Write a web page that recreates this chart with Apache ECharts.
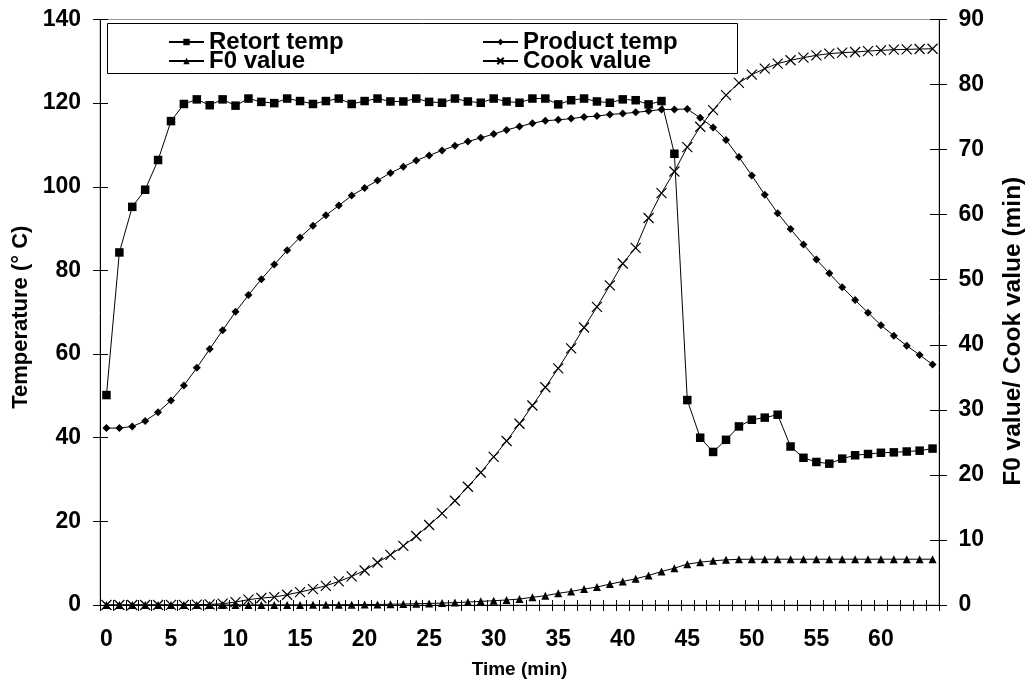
<!DOCTYPE html>
<html>
<head>
<meta charset="utf-8">
<script src="https://cdn.jsdelivr.net/npm/echarts@6/dist/echarts.min.js"></script>
<style>
  html, body { margin: 0; padding: 0; background: #fff; }
  #chart { width: 1034px; height: 684px; }
</style>
</head>
<body>
<div id="chart"></div>
<script>
// Time points, one reading per minute
const timeMin = Array.from({ length: 65 }, (_, i) => String(i));

// Retort temperature (°C)
const retortTemp = [
  50.2, 84.3, 95.2, 99.3, 106.4, 115.7, 119.8, 120.9, 119.5, 120.9,
  119.4, 121.1, 120.3, 120.0, 121.1, 120.5, 119.8, 120.5, 121.1, 119.8,
  120.5, 121.1, 120.4, 120.4, 121.1, 120.3, 120.1, 121.1, 120.4, 120.1,
  121.1, 120.4, 120.1, 121.1, 121.1, 119.7, 120.7, 121.1, 120.4, 120.1,
  120.9, 120.7, 119.7, 120.5, 107.9, 49.0, 40.0, 36.6, 39.5, 42.7,
  44.3, 44.8, 45.5, 37.9, 35.2, 34.2, 33.8, 35.0, 35.8, 36.1,
  36.4, 36.5, 36.7, 36.9, 37.4
];

// Product core temperature (°C)
const productTemp = [
  42.3, 42.3, 42.7, 44.0, 46.1, 48.9, 52.5, 56.7, 61.2, 65.7,
  70.1, 74.1, 77.9, 81.4, 84.8, 87.9, 90.7, 93.2, 95.5, 97.9,
  99.7, 101.5, 103.3, 104.8, 106.3, 107.5, 108.7, 109.8, 110.8, 111.7,
  112.6, 113.6, 114.4, 115.2, 115.8, 116.0, 116.3, 116.7, 116.9, 117.3,
  117.5, 117.8, 118.1, 118.5, 118.5, 118.6, 116.5, 114.2, 111.2, 107.1,
  102.7, 98.1, 93.7, 89.9, 86.2, 82.6, 79.3, 76.0, 72.9, 69.9,
  66.9, 64.4, 62.0, 59.8, 57.5
];

// Accumulated F0 value (min)
const f0Value = [
  0, 0, 0, 0, 0, 0, 0, 0, 0, 0,
  0, 0, 0, 0.01, 0.01, 0.01, 0.02, 0.03, 0.04, 0.05,
  0.07, 0.09, 0.12, 0.15, 0.19, 0.24, 0.30, 0.37, 0.45, 0.56,
  0.66, 0.77, 0.92, 1.18, 1.43, 1.79, 2.09, 2.45, 2.76, 3.21,
  3.62, 4.03, 4.54, 5.15, 5.66, 6.28, 6.58, 6.79, 6.94, 7.02,
  7.04, 7.04, 7.04, 7.04, 7.04, 7.04, 7.04, 7.04, 7.04, 7.04,
  7.04, 7.04, 7.04, 7.04, 7.04
];

// Accumulated cook value (min)
const cookValue = [
  0, 0, 0, 0, 0, 0.01, 0.02, 0.05, 0.1, 0.2,
  0.45, 0.82, 1.07, 1.22, 1.58, 1.99, 2.45, 2.95, 3.62, 4.39,
  5.31, 6.53, 7.70, 9.08, 10.61, 12.29, 14.08, 16.02, 18.17, 20.36,
  22.76, 25.21, 27.86, 30.66, 33.47, 36.38, 39.44, 42.65, 45.82, 49.13,
  52.50, 54.90, 59.49, 63.32, 66.64, 70.38, 73.51, 76.07, 78.37, 80.26,
  81.53, 82.45, 83.22, 83.73, 84.14, 84.49, 84.75, 84.90, 85.00, 85.15,
  85.26, 85.36, 85.41, 85.46, 85.51
];

const seriesNames = ['Retort temp', 'Product temp', 'F0 value', 'Cook value'];

const FONT = "'Liberation Sans', Arial, sans-serif";
const crossPath = 'path://M0,0L10,10M10,0L0,10';

const chart = echarts.init(document.getElementById('chart'), null, { renderer: 'canvas' });

const labelStyle = { color: '#000', fontFamily: FONT, fontWeight: 'bold', fontSize: 23 };
const nameStyle = (size, padding) => ({
  color: '#000', fontFamily: FONT, fontWeight: 'bold', fontSize: size, padding: padding || 0
});

function legendAt(name, left, top) {
  return {
    data: [name],
    left: left,
    top: top,
    orient: 'horizontal',
    itemWidth: 35,
    itemHeight: 8,
    padding: 0,
    selectedMode: false,
    textStyle: { color: '#000', fontFamily: FONT, fontWeight: 'bold', fontSize: 24, lineHeight: 20 }
  };
}

const lineSeries = (name, data, yIdx, symbol, size, extra) => Object.assign({
  name: name,
  type: 'line',
  data: data,
  xAxisIndex: 0,
  yAxisIndex: yIdx,
  symbol: symbol,
  symbolSize: size,
  showSymbol: true,
  showAllSymbol: true,
  animation: false,
  lineStyle: { color: '#000', width: 1 },
  itemStyle: { color: '#000' },
  emphasis: { disabled: true }
}, extra || {});

chart.setOption({
  backgroundColor: '#fff',
  animation: false,
  grid: {
    left: 100, right: 88.5, top: 19.5, bottom: 77,
    show: true, borderColor: '#999', borderWidth: 1
  },
  legend: [
    legendAt(seriesNames[0], 168, 30),
    legendAt(seriesNames[1], 482, 30),
    legendAt(seriesNames[2], 168, 49),
    legendAt(seriesNames[3], 482, 49)
  ],
  graphic: [{
    type: 'rect',
    shape: { x: 107.5, y: 23.5, width: 630, height: 50 },
    style: { fill: 'none', stroke: '#000', lineWidth: 1 },
    z: 0
  }],
  xAxis: [{
    type: 'category',
    data: timeMin,
    boundaryGap: true,
    position: 'bottom',
    name: 'Time (min)',
    nameLocation: 'middle',
    nameGap: 55,
    nameTextStyle: nameStyle(19),
    axisLine: { show: true, lineStyle: { color: '#000', width: 1 } },
    axisTick: { show: true, interval: 0, length: 6, lineStyle: { color: '#000' } },
    axisLabel: Object.assign({ interval: 4, margin: 23 }, labelStyle),
    splitLine: { show: false }
  }, {
    type: 'category',
    data: timeMin,
    boundaryGap: true,
    position: 'bottom',
    axisLine: { show: false },
    axisTick: { show: true, inside: true, interval: 0, length: 5, lineStyle: { color: '#000' } },
    axisLabel: { show: false },
    splitLine: { show: false }
  }],
  yAxis: [{
    type: 'value',
    position: 'left',
    min: 0, max: 140, interval: 20,
    name: 'Temperature (° C)',
    nameLocation: 'middle',
    nameGap: 65,
    nameTextStyle: nameStyle(22, [0, 10, 0, 0]),
    axisLine: { show: true, lineStyle: { color: '#000', width: 1 } },
    axisTick: { show: true, length: 7, lineStyle: { color: '#000' } },
    axisLabel: Object.assign({ margin: 19 }, labelStyle),
    splitLine: { show: false }
  }, {
    type: 'value',
    position: 'right',
    min: 0, max: 90, interval: 10,
    name: 'F0 value/ Cook value (min)',
    nameLocation: 'middle',
    nameGap: 62,
    nameTextStyle: nameStyle(24.5, [0, 38, 0, 0]),
    axisLine: { show: true, lineStyle: { color: '#000', width: 1 } },
    axisTick: { show: true, length: 8, lineStyle: { color: '#000' } },
    axisLabel: Object.assign({ margin: 19.5 }, labelStyle),
    splitLine: { show: false }
  }, {
    type: 'value',
    position: 'left',
    min: 0, max: 140, interval: 20,
    axisLine: { show: false },
    axisTick: { show: true, inside: true, length: 8, lineStyle: { color: '#000' } },
    axisLabel: { show: false },
    splitLine: { show: false }
  }, {
    type: 'value',
    position: 'right',
    min: 0, max: 90, interval: 10,
    axisLine: { show: false },
    axisTick: { show: true, inside: true, length: 9, lineStyle: { color: '#000' } },
    axisLabel: { show: false },
    splitLine: { show: false }
  }],
  series: [
    lineSeries(seriesNames[0], retortTemp, 0, 'rect', 8.5),
    lineSeries(seriesNames[1], productTemp, 0, 'diamond', 8),
    lineSeries(seriesNames[2], f0Value, 1, 'triangle', 8),
    lineSeries(seriesNames[3], cookValue, 1, crossPath, 10, {
      itemStyle: { color: 'none', borderColor: '#000', borderWidth: 1.2 }
    })
  ]
});
</script>
</body>
</html>
